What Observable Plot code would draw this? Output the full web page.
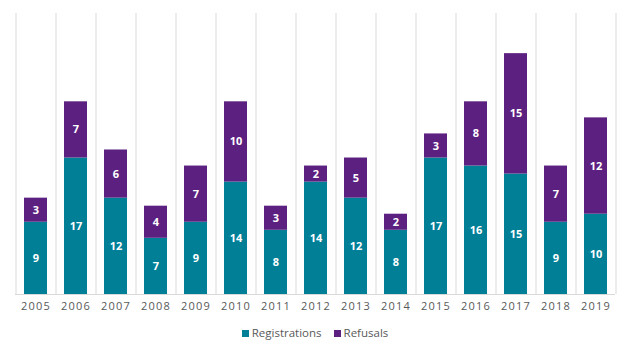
<!DOCTYPE html>
<html>
<head>
<meta charset="utf-8">
<script src="https://cdn.jsdelivr.net/npm/d3@7"></script>
<script src="https://cdn.jsdelivr.net/npm/@observablehq/plot@0.6"></script>
<style>
  body { margin: 0; background: #fff; font-family: "Open Sans", "Noto Sans", sans-serif; }
  #chart { width: 630px; }
  .legend { display: flex; justify-content: center; gap: 12px; font-size: 11.5px; color: #595959; height: 32px; align-items: center; margin-top: -4px; }
  .legend span.sw { display: inline-block; width: 7px; height: 7px; margin-right: 3px; vertical-align: 0px; }
</style>
</head>
<body>
<div id="chart"></div>
<script>
const years = ["2005","2006","2007","2008","2009","2010","2011","2012","2013","2014","2015","2016","2017","2018","2019"];
const registrations = [9, 17, 12, 7, 9, 14, 8, 14, 12, 8, 17, 16, 15, 9, 10];
const refusals = [3, 7, 6, 4, 7, 10, 3, 2, 5, 2, 3, 8, 15, 7, 12];
const seriesNames = ["Registrations", "Refusals"];
const seriesColors = ["#007f97", "#5c2180"];

const rows = [];
years.forEach((y, i) => {
  rows.push({year: y, series: seriesNames[0], value: registrations[i]});
  rows.push({year: y, series: seriesNames[1], value: refusals[i]});
});

const chart = Plot.plot({
  width: 630,
  height: 320,
  marginLeft: 15,
  marginRight: 15,
  marginTop: 13,
  marginBottom: 26,
  x: {domain: years, paddingInner: 0.43, paddingOuter: 0.215, label: null, tickSize: 0, tickPadding: 8},
  y: {domain: [0, 35], axis: null},
  color: {domain: seriesNames, range: seriesColors},
  style: {fontFamily: "'Open Sans', 'Noto Sans', sans-serif", fontSize: "11px", color: "#595959"},
  marks: [
    Plot.ruleX(years, {x: d => d, dx: -20, stroke: "#d9d9d9", strokeWidth: 1}),
    Plot.ruleX([years[years.length - 1]], {x: d => d, dx: 20, stroke: "#d9d9d9", strokeWidth: 1}),
    Plot.barY(rows, Plot.stackY({x: "year", y: "value", fill: "series", order: seriesNames})),
    Plot.text(rows, Plot.stackY({x: "year", y: "value", z: "series", order: seriesNames, text: d => String(d.value), fill: "white", fontWeight: "bold", fontSize: 11})),
    Plot.ruleY([0], {stroke: "#d9d9d9", strokeWidth: 1})
  ]
});
chart.querySelectorAll('[aria-label="x-axis tick label"] text').forEach(t => t.setAttribute("letter-spacing", "1.2"));
document.getElementById("chart").appendChild(chart);

const legend = document.createElement("div");
legend.className = "legend";
seriesNames.forEach((n, i) => {
  const item = document.createElement("div");
  const sw = document.createElement("span");
  sw.className = "sw";
  sw.style.background = seriesColors[i];
  item.appendChild(sw);
  item.appendChild(document.createTextNode(n));
  legend.appendChild(item);
});
document.getElementById("chart").appendChild(legend);
</script>
</body>
</html>
